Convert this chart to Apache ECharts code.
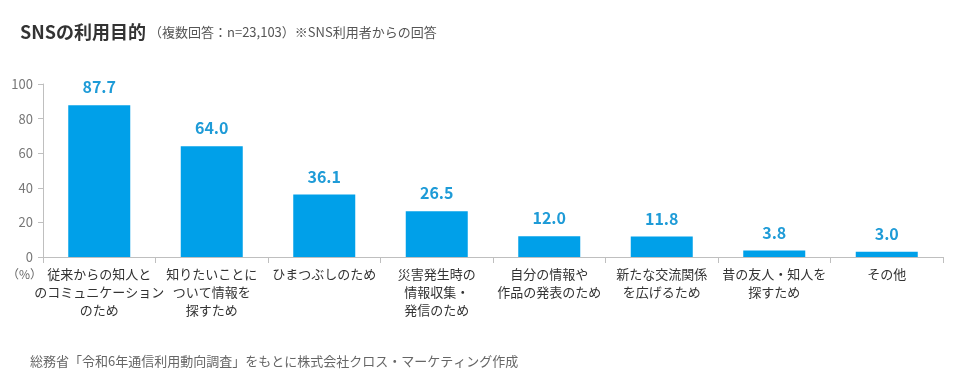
<!DOCTYPE html>
<html>
<head>
<meta charset="utf-8">
<script src="https://cdn.jsdelivr.net/npm/echarts@6/dist/echarts.min.js"></script>
<style>
  html, body { margin: 0; padding: 0; background: #fff; }
  #chart { width: 960px; height: 377px; }
</style>
</head>
<body>
<div id="chart"></div>
<script>
// 項目ラベル（改行は元画像どおり）
var categories = [
  '従来からの知人と\nのコミュニケーション\nのため',
  '知りたいことに\nついて情報を\n探すため',
  'ひまつぶしのため',
  '災害発生時の\n情報収集・\n発信のため',
  '自分の情報や\n作品の発表のため',
  '新たな交流関係\nを広げるため',
  '昔の友人・知人を\n探すため',
  'その他'
]
var values = [87.7, 64.0, 36.1, 26.5, 12.0, 11.8, 3.8, 3.0]
var yTicks = [0, 20, 40, 60, 80, 100]

var font = '"Noto Sans CJK JP", "Noto Sans", sans-serif'
var chart = echarts.init(document.getElementById('chart'))

chart.setOption({
  animation: false,
  textStyle: { fontFamily: font },
  title: [
    {
      text: 'SNSの利用目的',
      left: 15,
      top: 18,
      textStyle: { fontSize: 18, fontWeight: 'bold', color: '#333', fontFamily: font }
    },
    {
      text: '（複数回答：n=23,103）※SNS利用者からの回答',
      left: 144,
      top: 21,
      textStyle: { fontSize: 13, fontWeight: 'normal', color: '#555', fontFamily: font }
    },
    {
      text: '総務省「令和6年通信利用動向調査」をもとに株式会社クロス・マーケティング作成',
      left: 25,
      top: 350,
      textStyle: { fontSize: 13, fontWeight: 'normal', color: '#666', fontFamily: font }
    },
    {
      text: '（%）',
      left: 2,
      top: 263,
      textStyle: { fontSize: 12, fontWeight: 'normal', color: '#666', fontFamily: font }
    }
  ],
  grid: {
    left: 43,
    right: 17,
    top: 84,
    bottom: 120
  },
  xAxis: {
    type: 'category',
    data: categories,
    axisLine: { lineStyle: { color: '#bfbfbf' } },
    axisTick: { show: true, alignWithLabel: false, length: 6, lineStyle: { color: '#bfbfbf' } },
    axisLabel: {
      interval: 0,
      color: '#333',
      fontSize: 13,
      lineHeight: 18,
      margin: 8,
      fontFamily: font
    }
  },
  yAxis: {
    type: 'value',
    min: 0,
    max: 100,
    interval: 20,
    axisLine: { show: true, lineStyle: { color: '#bfbfbf' } },
    axisTick: { show: true, length: 5, lineStyle: { color: '#bfbfbf' } },
    splitLine: { show: false },
    axisLabel: {
      color: '#777',
      fontSize: 13,
      margin: 10,
      fontFamily: font,
      formatter: function (v) { return yTicks.indexOf(v) >= 0 ? String(v) : '' }
    }
  },
  series: [{
    type: 'bar',
    data: values,
    barWidth: 62,
    itemStyle: { color: '#00A0E9' },
    label: {
      show: true,
      position: 'top',
      distance: 10,
      color: '#1E9BD7',
      fontSize: 16,
      fontWeight: 'bold',
      fontFamily: font,
      formatter: function (p) { return p.value.toFixed(1) }
    }
  }]
})
</script>
</body>
</html>
